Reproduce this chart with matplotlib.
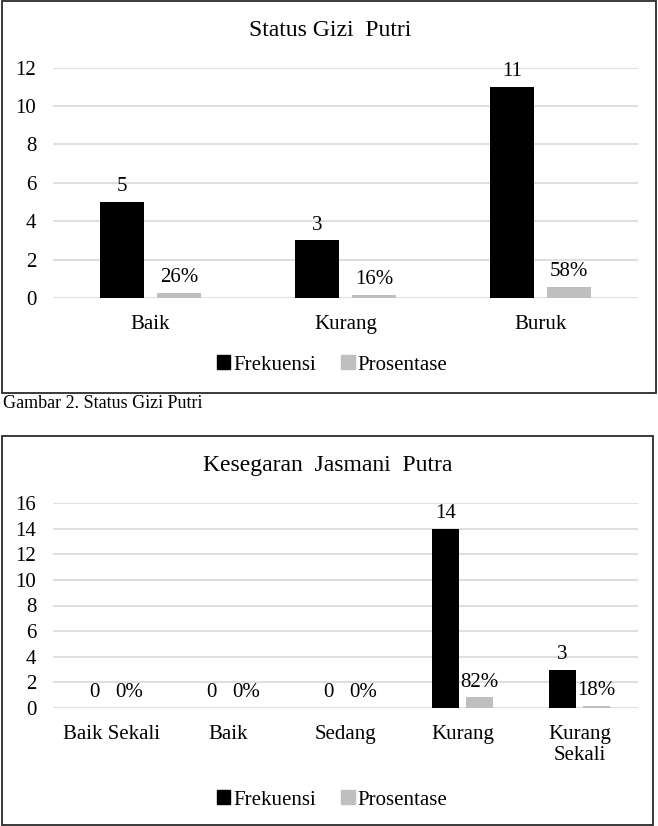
import numpy as np
import matplotlib
matplotlib.use('Agg')
from matplotlib import pyplot as plt
from matplotlib.patches import Rectangle, Patch

plt.rcParams['font.family'] = ['Liberation Serif', 'DejaVu Serif']

# Chart 1 data
gizi_cats = ['Baik', 'Kurang', 'Buruk']
gizi_freq = [5, 3, 11]
gizi_pct = [0.26, 0.16, 0.58]
gizi_pct_labels = ['26%', '16%', '58%']

# Chart 2 data
jas_cats = ['Baik Sekali', 'Baik', 'Sedang', 'Kurang', 'Kurang\nSekali']
jas_freq = [0, 0, 0, 14, 3]
jas_pct = [0.0, 0.0, 0.0, 0.82, 0.18]
jas_pct_labels = ['0%', '0%', '0%', '82%', '18%']

W, H = 658, 826
BLACK = '#000000'
GRAY = '#bfbfbf'
GRID = '#d9d9d9'

fig = plt.figure(figsize=(W / 100, H / 100), dpi=100)


def px_box(x0, y0, x1, y1):
    """ pixel box (top-left origin) -> figure fraction [l, b, w, h] """
    return [x0 / W, 1 - y1 / H, (x1 - x0) / W, (y1 - y0) / H]


def draw_chart(rect, cats, freq, pct, pct_labels, ymax):
    ax = fig.add_axes(rect)
    x = np.arange(len(cats))
    off, bw = 0.147, 0.226
    ax.bar(x - off, freq, width=bw, color=BLACK, zorder=2)
    ax.bar(x + off, pct, width=bw, color=GRAY, zorder=2)
    for i in range(len(cats)):
        ax.annotate(str(freq[i]), (x[i] - off, freq[i]), xytext=(0, 4),
                    textcoords='offset points', ha='center', va='bottom', fontsize=15)
        ax.annotate(pct_labels[i], (x[i] + off, pct[i]), xytext=(0, 4),
                    textcoords='offset points', ha='center', va='bottom', fontsize=15)
    ax.set_xlim(-0.5, len(cats) - 0.5)
    ax.set_ylim(0, ymax)
    ax.set_yticks(np.arange(0, ymax + 1, 2))
    ax.set_xticks(x)
    ax.set_xticklabels(cats, fontsize=15, linespacing=1.2)
    ax.tick_params(axis='y', length=0, pad=12, labelsize=15)
    ax.tick_params(axis='x', length=0, pad=12)
    ax.yaxis.grid(True, color=GRID, linewidth=1.2)
    ax.set_axisbelow(True)
    for s in ax.spines.values():
        s.set_visible(False)
    return ax


def legend_at(yc):
    handles = [Patch(color=BLACK, label='Frekuensi'), Patch(color=GRAY, label='Prosentase')]
    fig.legend(handles=handles, loc='center', bbox_to_anchor=(332 / W, 1 - yc / H),
               ncol=2, frameon=False, fontsize=15, handlelength=0.65, handleheight=0.65,
               handletextpad=0.15, columnspacing=1.2)


# frames
fig.add_artist(Rectangle((2 / W, 1 - 393 / H), 654 / W, 392 / H, transform=fig.transFigure,
                         fill=False, edgecolor='#2b2b2b', linewidth=1.3))
fig.add_artist(Rectangle((2 / W, 1 - 825 / H), 651 / W, 389 / H, transform=fig.transFigure,
                         fill=False, edgecolor='#2b2b2b', linewidth=1.3))

# chart 1
fig.text(330 / W, 1 - 31 / H, 'Status Gizi  Putri', ha='center', va='center', fontsize=17)
draw_chart(px_box(53, 67.7, 638, 298), gizi_cats, gizi_freq, gizi_pct, gizi_pct_labels, 12)
legend_at(365)

fig.text(3 / W, 1 - 404 / H, 'Gambar 2. Status Gizi Putri', ha='left', va='center', fontsize=13)

# chart 2
fig.text(328 / W, 1 - 466 / H, 'Kesegaran  Jasmani  Putra', ha='center', va='center', fontsize=17)
draw_chart(px_box(53, 503, 638, 708), jas_cats, jas_freq, jas_pct, jas_pct_labels, 16)
legend_at(800)

fig.savefig('out.png', dpi=100)
